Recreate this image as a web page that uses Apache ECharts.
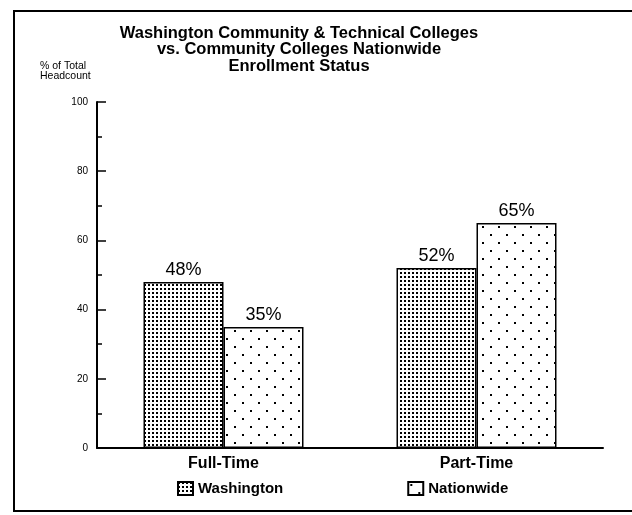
<!doctype html>
<html>
<head>
    <meta charset="utf-8">
    <title>Enrollment Status</title>
    <style>
        html, body { margin: 0; padding: 0; background: #fff; }
        #chartEle { width: 632px; height: 515px; }
    </style>
</head>
<body>
<div id="chartEle"></div>
<script src="https://cdn.jsdelivr.net/npm/echarts@6/dist/echarts.min.js"></script>
<script>
    // data
    var categories = ['Full-Time', 'Part-Time'];
    var washington = [48, 52];
    var nationwide = [35, 65];
    var yTicks = [0, 20, 40, 60, 80, 100];

    // dot fills made on small canvases
    function dots(size, pts, r) {
        var c = document.createElement('canvas');
        c.width = size; c.height = size;
        var ctx = c.getContext('2d');
        ctx.fillStyle = '#fff';
        ctx.fillRect(0, 0, size, size);
        ctx.fillStyle = '#000';
        pts.forEach(function (p) { ctx.fillRect(p[0], p[1], r, r); });
        return c;
    }
    var densePat = {image: dots(4, [[0, 0]], 2), repeat: 'repeat'};
    var sparsePat = {image: dots(16, [[2, 2], [10, 10]], 2), repeat: 'repeat'};

    var myChart = echarts.init(document.getElementById('chartEle'));
    var option = {
        animation: false,
        title: [{
            text: 'Washington Community & Technical Colleges\nvs. Community Colleges Nationwide\nEnrollment Status',
            left: 299,
            top: 25,
            padding: 0,
            textAlign: 'center',
            textStyle: {fontFamily: 'Liberation Sans', fontSize: 16.5, fontWeight: 'bold', lineHeight: 16.5, color: '#000'}
        }, {
            text: '% of Total\nHeadcount',
            left: 40,
            top: 61,
            padding: 0,
            textStyle: {fontFamily: 'Liberation Sans', fontSize: 10.5, fontWeight: 'normal', lineHeight: 10, color: '#000'}
        }],
        legend: {
            data: ['Washington', 'Nationwide'],
            icon: 'rect',
            left: 177,
            top: 481,
            padding: 0,
            itemWidth: 15,
            itemHeight: 13,
            itemGap: 124,
            selectedMode: false,
            textStyle: {fontFamily: 'Liberation Sans', fontSize: 15, fontWeight: 'bold', color: '#000'}
        },
        grid: {left: 97, right: 29, top: 102, bottom: 67},
        xAxis: {
            type: 'category',
            data: categories,
            axisLine: {lineStyle: {color: '#000', width: 2}},
            axisTick: {show: false},
            axisLabel: {margin: 8, fontFamily: 'Liberation Sans', fontSize: 16, fontWeight: 'bold', color: '#000'}
        },
        yAxis: {
            type: 'value',
            min: yTicks[0],
            max: yTicks[yTicks.length - 1],
            interval: 20,
            axisLine: {show: true, lineStyle: {color: '#000', width: 2}},
            axisTick: {show: true, inside: true, length: 9, lineStyle: {color: '#000', width: 1.5}},
            minorTick: {show: true, splitNumber: 2, length: 5, lineStyle: {color: '#000', width: 1.5}},
            splitLine: {show: false},
            axisLabel: {margin: 9, fontFamily: 'Liberation Sans', fontSize: 10, color: '#000'}
        },
        graphic: [{
            type: 'rect',
            shape: {x: 14, y: 11, width: 640, height: 500},
            style: {fill: null, stroke: '#000', lineWidth: 2},
            silent: true
        }],
        series: [{
            name: 'Washington',
            type: 'bar',
            data: washington,
            barWidth: 80,
            barGap: '0%',
            itemStyle: {color: densePat, borderColor: '#000', borderWidth: 1.5},
            label: {show: true, position: 'top', distance: 3, formatter: '{c}%',
                fontFamily: 'Liberation Sans', fontSize: 18, color: '#000'}
        }, {
            name: 'Nationwide',
            type: 'bar',
            data: nationwide,
            barWidth: 80,
            itemStyle: {color: sparsePat, borderColor: '#000', borderWidth: 1.5},
            label: {show: true, position: 'top', distance: 3, formatter: '{c}%',
                fontFamily: 'Liberation Sans', fontSize: 18, color: '#000'}
        }]
    };
    myChart.setOption(option);
</script>
</body>
</html>
